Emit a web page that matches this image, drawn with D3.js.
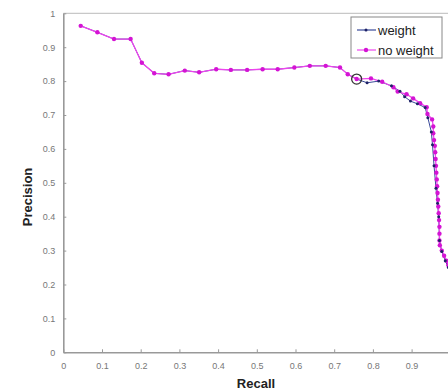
<!DOCTYPE html>
<html>
<head>
<meta charset="utf-8">
<script src="https://cdn.jsdelivr.net/npm/d3@7"></script>
<style>
  body { margin: 0; background: #fff; }
  svg { display: block; font-family: "Liberation Sans", Arial, sans-serif; }
</style>
</head>
<body>
<div id="chart"></div>
<script>
// recall / precision
const recallNoWeight = [0.045, 0.088, 0.131, 0.174, 0.203, 0.235, 0.272, 0.314, 0.351, 0.395, 0.433, 0.475, 0.515, 0.554, 0.597, 0.637, 0.678, 0.715, 0.735, 0.758, 0.795, 0.824, 0.853, 0.864, 0.887, 0.904, 0.922, 0.939, 0.941, 0.953, 0.956, 0.956, 0.958, 0.960, 0.961, 0.962, 0.963, 0.964, 0.965, 0.966, 0.967, 0.968, 0.969, 0.970, 0.971, 0.972, 0.972, 0.972, 0.973, 0.978, 0.984, 0.990, 0.995, 1.0];
const precisionNoWeight = [0.963, 0.944, 0.924, 0.924, 0.854, 0.823, 0.820, 0.831, 0.826, 0.835, 0.833, 0.833, 0.835, 0.835, 0.840, 0.845, 0.845, 0.840, 0.820, 0.806, 0.808, 0.798, 0.782, 0.769, 0.761, 0.749, 0.735, 0.723, 0.703, 0.687, 0.666, 0.646, 0.626, 0.609, 0.590, 0.570, 0.550, 0.530, 0.510, 0.490, 0.470, 0.450, 0.430, 0.410, 0.390, 0.370, 0.350, 0.330, 0.316, 0.300, 0.285, 0.270, 0.257, 0.245];

const recallWeight = [0.045, 0.088, 0.131, 0.174, 0.203, 0.235, 0.272, 0.314, 0.351, 0.395, 0.433, 0.475, 0.515, 0.554, 0.597, 0.637, 0.678, 0.715, 0.735, 0.758, 0.785, 0.815, 0.848, 0.870, 0.882, 0.897, 0.915, 0.935, 0.942, 0.951, 0.954, 0.958, 0.963, 0.967, 0.970, 0.972, 0.978, 0.987, 0.995];
const precisionWeight = [0.963, 0.944, 0.924, 0.924, 0.854, 0.823, 0.820, 0.831, 0.826, 0.835, 0.833, 0.833, 0.835, 0.835, 0.840, 0.845, 0.845, 0.840, 0.820, 0.806, 0.795, 0.800, 0.786, 0.770, 0.754, 0.741, 0.733, 0.722, 0.692, 0.650, 0.612, 0.550, 0.484, 0.440, 0.400, 0.330, 0.297, 0.270, 0.250];

const highlightIndex = 19; // circled point on the no-weight curve

const xTicks = [0, 0.1, 0.2, 0.3, 0.4, 0.5, 0.6, 0.7, 0.8, 0.9];
const yTicks = [0, 0.1, 0.2, 0.3, 0.4, 0.5, 0.6, 0.7, 0.8, 0.9, 1];
const seriesNames = ["weight", "no weight"];

const margin = {top: 13.3, left: 63.3};
const plotW = 387, plotH = 339;

const svg = d3.select("#chart").append("svg")
  .attr("width", 448)
  .attr("height", 391);

const g = svg.append("g")
  .attr("transform", "translate(" + margin.left + "," + margin.top + ")");

const x = d3.scaleLinear().domain([0, 1]).range([0, plotW]);
const y = d3.scaleLinear().domain([0, 1]).range([plotH, 0]);
const fmt = d3.format("~g");

// frame top / right
g.append("line").attr("x1", 0).attr("x2", plotW).attr("y1", 0).attr("y2", 0)
  .attr("stroke", "#bbb").attr("stroke-width", 1);
g.append("line").attr("x1", plotW).attr("x2", plotW).attr("y1", 0).attr("y2", plotH)
  .attr("stroke", "#bbb").attr("stroke-width", 1);

// x axis
const xAxis = g.append("g")
  .attr("transform", "translate(0," + plotH + ")")
  .call(d3.axisBottom(x).tickValues(xTicks).tickFormat(fmt).tickSizeInner(-3).tickSizeOuter(0).tickPadding(10));
// y axis
const yAxis = g.append("g")
  .call(d3.axisLeft(y).tickValues(yTicks).tickFormat(fmt).tickSizeInner(-3).tickSizeOuter(0).tickPadding(8));

[xAxis, yAxis].forEach(a => {
  a.select(".domain").attr("stroke", "#999").attr("stroke-width", 1.6);
  a.selectAll(".tick line").attr("stroke", "#999");
  a.selectAll(".tick text").attr("fill", "#777").style("font-size", "9px");
});

// axis titles
svg.append("text")
  .attr("x", 256).attr("y", 388)
  .attr("text-anchor", "middle")
  .style("font-size", "13px").style("font-weight", "bold").attr("fill", "#222")
  .text("Recall");
svg.append("text")
  .attr("transform", "translate(32,197) rotate(-90)")
  .attr("text-anchor", "middle")
  .style("font-size", "13px").style("font-weight", "bold").attr("fill", "#222")
  .text("Precision");

const line = d3.line().x(d => x(d[0])).y(d => y(d[1]));

const weightPts = recallWeight.map((r, i) => [r, precisionWeight[i]]);
const noWeightPts = recallNoWeight.map((r, i) => [r, precisionNoWeight[i]]);

// weight (drawn first, mostly hidden)
g.append("path").datum(weightPts).attr("d", line)
  .attr("fill", "none").attr("stroke", "#3a4a9a").attr("stroke-width", 1);

// no weight
g.append("path").datum(noWeightPts).attr("d", line)
  .attr("fill", "none").attr("stroke", "#ee44ee").attr("stroke-width", 1.3);
g.selectAll(".pnw").data(noWeightPts).enter().append("circle")
  .attr("class", "pnw")
  .attr("cx", d => x(d[0])).attr("cy", d => y(d[1]))
  .attr("r", 2.2).attr("fill", "#d414d4");

// weight markers on top where they differ
g.selectAll(".pw").data(weightPts.slice(20)).enter().append("circle")
  .attr("class", "pw")
  .attr("cx", d => x(d[0])).attr("cy", d => y(d[1]))
  .attr("r", 1.5).attr("fill", "#1e2266");

// circled point
g.append("circle")
  .attr("cx", x(recallNoWeight[highlightIndex])).attr("cy", y(precisionNoWeight[highlightIndex]))
  .attr("r", 5).attr("fill", "none").attr("stroke", "#333").attr("stroke-width", 1.3);

// legend
const lg = svg.append("g").attr("transform", "translate(351,17)");
lg.append("rect").attr("width", 91).attr("height", 41)
  .attr("fill", "#fff").attr("stroke", "#888").attr("stroke-width", 1);
const legColors = [["#3a4a9a", "#1e2266", 1.5], ["#ee44ee", "#d414d4", 2.2]];
seriesNames.forEach((name, i) => {
  const yy = 13 + i * 20;
  lg.append("line").attr("x1", 6).attr("x2", 25).attr("y1", yy).attr("y2", yy)
    .attr("stroke", legColors[i][0]).attr("stroke-width", 1.2);
  lg.append("circle").attr("cx", 15).attr("cy", yy).attr("r", legColors[i][2]).attr("fill", legColors[i][1]);
  lg.append("text").attr("x", 27).attr("y", yy + 4.5)
    .style("font-size", "13px").attr("fill", "#222").text(name);
});
</script>
</body>
</html>
